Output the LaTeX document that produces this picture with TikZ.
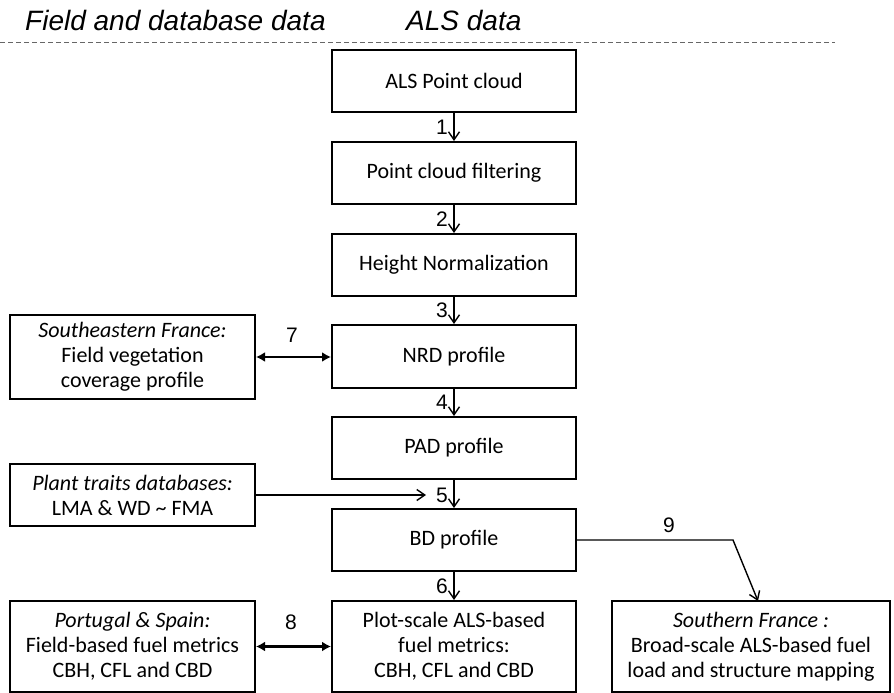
\documentclass[tikz,border=0pt]{standalone}
\usepackage{fontspec}
\setmainfont{Carlito}
\newfontfamily\arialfont{Liberation Sans}
\usetikzlibrary{arrows.meta}

\begin{document}
\begin{tikzpicture}[x=1pt,y=-1pt,
  box/.style={draw=black, line width=2pt, rectangle, align=center, inner sep=0pt,
    font=\fontsize{22}{25}\selectfont},
  midbox/.style={box, minimum width=244pt, minimum height=62pt},
  sidebox/.style={box, minimum width=245pt},
  flow/.style={line width=1.4pt, -{Straight Barb[length=8pt,width=11pt]}},
  link/.style={line width=2.8pt, {Latex[length=9pt,width=10pt]}-{Latex[length=9pt,width=10pt]}},
  num/.style={font=\arialfont\fontsize{21}{21}\selectfont, inner sep=0pt},
  head/.style={font=\arialfont\itshape\fontsize{28}{28}\selectfont, inner sep=0pt, anchor=base west}]

\useasboundingbox (0,0) rectangle (894,693);

% column headers and separator rule
\node[head] (hfield) at (25,31) {Field and database data};
\node[head] (hals) at (406,31) {ALS data};
\coordinate (ruleL) at (0,43);
\coordinate (ruleR) at (835,43);
\draw[black!60, line width=1pt, dash pattern=on 5pt off 3pt] (ruleL) -- (ruleR);

% ALS processing chain
\node[midbox] (als) at (454,81) {ALS Point cloud};
\node[midbox] (filt) at (454,173) {Point cloud filtering};
\node[midbox] (hnorm) at (454,265) {Height Normalization};
\node[midbox, minimum height=63pt] (nrd) at (454,356.5) {NRD profile};
\node[midbox] (pad) at (454,448) {PAD profile};
\node[midbox] (bd) at (454,540) {BD profile};
\node[midbox, minimum height=91pt] (plot) at (454,646.5)
  {Plot-scale ALS-based\\fuel metrics:\\CBH, CFL and CBD};

% field and database inputs
\node[sidebox, minimum height=84pt] (sef) at (132.5,357)
  {\textit{Southeastern France:}\\Field vegetation\\coverage profile};
\node[sidebox, minimum height=62pt] (ptd) at (132.5,495)
  {\textit{Plant traits databases:}\\LMA \& WD \textasciitilde{} FMA};
\node[sidebox, minimum height=91pt] (pse) at (132.5,646.5)
  {\textit{Portugal \& Spain:}\\Field-based fuel metrics\\CBH, CFL and CBD};

% broad-scale output
\node[box, minimum width=278pt, minimum height=91pt] (sfr) at (751,646.5)
  {\textit{Southern France :}\\Broad-scale ALS-based fuel\\load and structure mapping};

% numbered steps down the chain
\draw[flow] (als) -- (filt);
\draw[flow] (filt) -- (hnorm);
\draw[flow] (hnorm) -- (nrd);
\draw[flow] (nrd) -- (pad);
\draw[flow] (pad) -- (bd);
\draw[flow] (bd) -- (plot);
\node[num, anchor=east] (n1) at (448,127) {1};
\node[num, anchor=east] (n2) at (448,219) {2};
\node[num, anchor=east] (n3) at (448,310.5) {3};
\node[num, anchor=east] (n4) at (448,402.5) {4};
\node[num, anchor=east] (n5) at (448,495) {5};
\node[num, anchor=east] (n6) at (448,586) {6};

% plant traits feed step 5
\coordinate (tip5) at (426,495);
\draw[flow] (ptd.east) -- (tip5);

% field comparisons
\draw[link] (sef.east) -- (sef.east -| nrd.west);
\node[num] (n7) at (292,335) {7};
\draw[link] (pse.east) -- (pse.east -| plot.west);
\node[num] (n8) at (291,622) {8};

% upscaling to the regional map
\coordinate (bend9) at (733,540);
\coordinate (tip9) at (758,601);
\draw[flow, line join=miter] (bd.east) -- (bend9) -- (tip9);
\node[num] (n9) at (669,525) {9};

\end{tikzpicture}
\end{document}
